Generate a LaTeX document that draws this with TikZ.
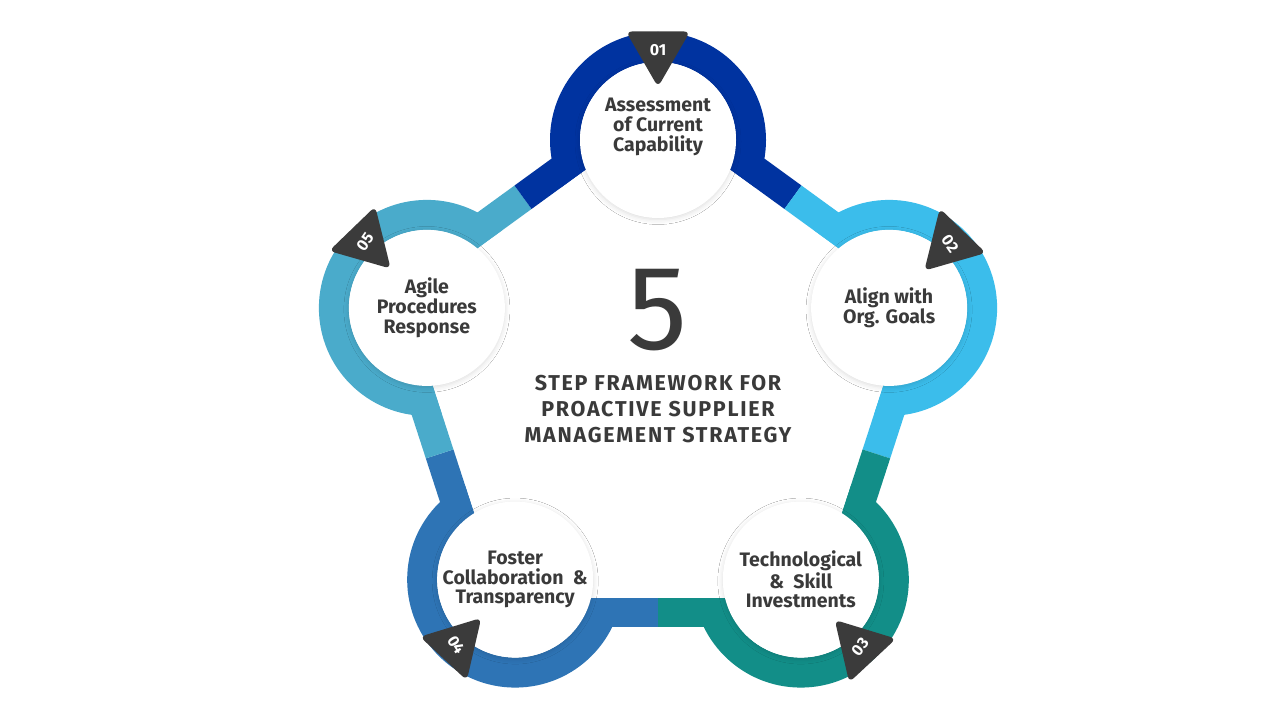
\documentclass[tikz,border=0pt]{standalone}
\usepackage{fontspec}
\setmainfont{Fira Sans}
\usetikzlibrary{calc,shadows.blur}
\definecolor{cA}{HTML}{0033A0}
\definecolor{cB}{HTML}{3BBDEB}
\definecolor{cC}{HTML}{128E88}
\definecolor{cD}{HTML}{2E74B5}
\definecolor{cE}{HTML}{4AABCB}
\definecolor{ink}{HTML}{3A3A3A}
\definecolor{mk}{HTML}{3B3B3B}
\tikzset{
  bubble/.style={circle,fill=white,minimum size=156pt,inner sep=0pt,align=center,
    text=ink,font=\bfseries\fontsize{19.5}{19.8}\selectfont,
    blur shadow={shadow blur radius=5pt,shadow xshift=0pt,shadow yshift=-1.5pt,shadow opacity=14,shadow blur extra rounding=0pt}},
  ringline/.style={line width=30pt},
  conn/.style={line width=29pt},
  numtxt/.style={text=white,font=\bfseries\fontsize{16}{16}\selectfont,inner sep=0pt}
}
\begin{document}
\begin{tikzpicture}[x=1pt,y=1pt]
\useasboundingbox (0,0) rectangle (1280,720);
\fill[white] (0,0) rectangle (1280,720);
\coordinate (C) at (658,337);
\foreach \i/\a in {1/90,2/18,3/-54,4/-126,5/162}{
  \coordinate (n\i) at ($(C)+(\a:243)$);
  \coordinate (k\i) at ($(C)+(\a:283.8)$);
  \coordinate (w\i) at ($(C)+(\a:265.9)$);
}
% rings
\foreach \i/\c in {1/cA,2/cB,3/cC,4/cD,5/cE}{
  \draw[ringline,\c] (n\i) circle (93);
}
\fill[white] (w1)--(w2)--(w3)--(w4)--(w5)--cycle;
% connectors
\foreach \i/\j/\ci/\cj in {1/2/cA/cB,2/3/cB/cC,3/4/cC/cD,4/5/cD/cE,5/1/cE/cA}{
  \draw[conn,\ci] (k\i) -- ($(k\i)!0.5!(k\j)$);
  \draw[conn,\cj] ($(k\i)!0.5!(k\j)$) -- (k\j);
}
% bubbles
\node[bubble] (b1) at (n1) {};
\node[text=ink,font=\bfseries\fontsize{19.5}{19.8}\selectfont,align=center] (t1) at ($(n1)+(0,13)$) {Assessment\\of Current\\Capability};
\node[bubble] (b2) at (n2) {Align with\\Org. Goals};
\node[bubble] (b3) at (n3) {Technological\\\&\ \ Skill\\Investments};
\node[bubble] (b4) at (n4) {Foster\\Collaboration\ \ \&\\Transparency};
\node[bubble] (b5) at (n5) {Agile\\Procedures\\Response};
% markers
\foreach \i/\x/\y/\t/\r/\lab in {1/658/670/-90/0/01,2/950/476/-14/-55/02,3/860/73/-107/52/03,4/456/75/-73/-58/04,5/365/478/194/55/05}{
  \coordinate (p\i) at (\x,\y);
  \fill[mk,rounded corners=6pt] ($(p\i)+(\t:37)$) -- ($(p\i)+(\t+120:37)$) -- ($(p\i)+(\t+240:37)$) -- cycle;
  \node[numtxt,rotate=\r] (m\i) at (p\i) {\lab};
}
% centre
\node[text=ink,font=\fontsize{120}{120}\selectfont,inner sep=0pt] (five) at (658,410) {5};
\node[text=ink,font=\bfseries\fontsize{21.5}{26}\selectfont\addfontfeatures{LetterSpace=8},align=center] (title) at (658,311) {STEP FRAMEWORK FOR\\PROACTIVE SUPPLIER\\MANAGEMENT STRATEGY};
\end{tikzpicture}
\end{document}
